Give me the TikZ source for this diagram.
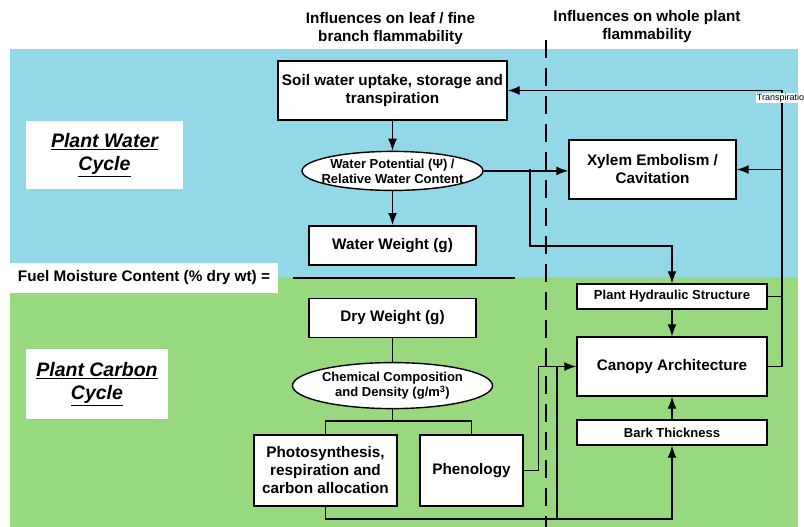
\documentclass[tikz,border=0pt]{standalone}
\usepackage{fontspec}
\setmainfont{Liberation Sans}
\usepackage{xcolor}
\usetikzlibrary{shapes, arrows.meta, positioning, calc}

\definecolor{waterblue}{RGB}{147,216,232}
\definecolor{carbongreen}{RGB}{152,217,128}

\begin{document}
\begin{tikzpicture}[
    x=1bp, y=-1bp,
    block/.style={
        rectangle,
        draw,
        fill=white,
        line width=1.4bp,
        inner sep=0pt,
        align=center,
        font=\bfseries\fontsize{15.3bp}{18bp}\selectfont
    },
    minor/.style={
        block,
        font=\bfseries\fontsize{13bp}{15bp}\selectfont
    },
    oval/.style={
        draw,
        ellipse,
        fill=white,
        line width=1.4bp,
        inner xsep=-8bp,
        inner ysep=-3bp,
        align=center,
        font=\bfseries\fontsize{13bp}{15bp}\selectfont
    },
    heading/.style={
        align=center,
        font=\bfseries\fontsize{15.3bp}{18bp}\selectfont
    },
    cyclebox/.style={
        fill=white,
        inner sep=0pt,
        align=center,
        font=\bfseries\itshape\fontsize{19.5bp}{23.3bp}\selectfont
    },
    line/.style={
        draw,
        -{Latex[length=12bp,width=9bp]},
        line width=1.4bp
    },
    wire/.style={
        draw,
        line width=1.4bp
    }
]
\useasboundingbox (0,0) rectangle (804,527);

% Background bands and divider
\fill[waterblue] (10,49) rectangle (798,277);
\fill[carbongreen] (10,277) rectangle (798,527);
\draw[line width=2.7bp, dash pattern=on 18bp off 10bp] (546,40) -- (546,527);

% Headings
\node [heading] (leafhead) at (390.5,29) {Influences on leaf / fine\\branch flammability};
\node [heading] (wholehead) at (647,27) {Influences on whole plant\\flammability};
\node [cyclebox, minimum width=157bp, minimum height=68bp] (watercycle) at (104.5,155) {\underline{Plant Water}\\\underline{Cycle}};
\node [cyclebox, minimum width=142bp, minimum height=70bp] (carboncycle) at (97,384) {\underline{Plant Carbon}\\\underline{Cycle}};
\node [block, draw=none, minimum width=268bp, minimum height=30bp] (fuel) at (144,278) {Fuel Moisture Content (\% dry wt) =};

% Nodes
\node [block, minimum width=229bp, minimum height=59bp] (soil) at (392.5,90.5) {Soil water uptake, storage and\\transpiration};
\node [oval, minimum width=181bp, minimum height=39bp, below=30bp of soil] (wpot) {Water Potential (Ψ) /\\Relative Water Content};
\node [block, minimum width=167bp, minimum height=39bp, below=34bp of wpot] (wweight) {Water Weight (g)};
\node [block, minimum width=167bp, minimum height=39bp, below=32bp of wweight] (dweight) {Dry Weight (g)};
\node [oval, minimum width=200bp, minimum height=46bp, below=24bp of dweight] (chem) {Chemical Composition\\and Density (g/m\textsuperscript{3})};
\node [block, minimum width=143bp, minimum height=71bp] (photo) at (325.5,470.5) {Photosynthesis,\\respiration and\\carbon allocation};
\node [block, minimum width=103bp, minimum height=71bp] (pheno) at (471.5,470.5) {Phenology};
\node [block, minimum width=167bp, minimum height=59bp] (xylem) at (652.5,169.5) {Xylem Embolism /\\Cavitation};
\node [minor, minimum width=190bp, minimum height=25bp] (phs) at (672,296.5) {Plant Hydraulic Structure};
\node [block, minimum width=190bp, minimum height=59bp] (canopy) at (672,366.5) {Canopy Architecture};
\node [minor, minimum width=190bp, minimum height=25bp] (bark) at (672,432.5) {Bark Thickness};

\coordinate (split) at (392.5,421);
\coordinate (tap) at (530,169.5);
\coordinate (bend) at (530,246);
\coordinate (railtop) at (782,90.5);
\coordinate (floor) at (672,519);
\coordinate (riser) at (557,519);

% Fraction bar
\draw[line width=1.4bp] (293,278) -- (515,278);

% Paths
\path [line] (soil) -- (wpot);
\path [line] (wpot) -- (wweight);
\path [wire] (dweight) -- (chem);
\path [wire] (chem) -- (split) -| (photo);
\path [wire] (split) -| (pheno);
\path [line] (wpot.east) -- (wpot.east -| xylem.west);
\path [line] (tap) -- (bend) -| (phs);
\path [line] (phs) -- (canopy);
\path [line] (bark) -- (canopy);
\path [line] (canopy.east) -| (railtop) -- (soil.east);
\path [line] (railtop |- xylem.east) -- (xylem.east);
\path [wire] (phs.east) -- (phs.east -| railtop);
\path [line] (pheno.east) -- ++(15,0) |- (canopy.west);
\path [line] (photo.south) |- (floor) -- (bark.south);
\path [wire] (riser) -- (riser |- canopy.west);

\node [fill=white, inner sep=0.6bp, font=\fontsize{9bp}{10bp}\selectfont] (transp) at (783,98) {Transpiration};

\end{tikzpicture}
\end{document}
